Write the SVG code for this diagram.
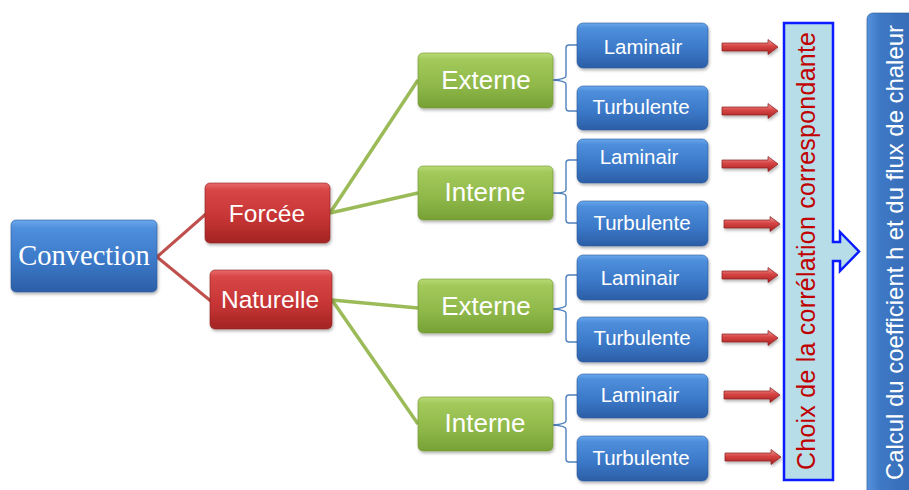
<svg xmlns="http://www.w3.org/2000/svg" width="909" height="490" viewBox="0 0 909 490">
  <defs>
    <linearGradient id="gBlue" x1="0" y1="0" x2="0" y2="1">
      <stop offset="0" stop-color="#6aa8ec"/>
      <stop offset="0.12" stop-color="#4e8fdc"/>
      <stop offset="0.6" stop-color="#3a77c6"/>
      <stop offset="1" stop-color="#2c5ea6"/>
    </linearGradient>
    <linearGradient id="gRed" x1="0" y1="0" x2="0" y2="1">
      <stop offset="0" stop-color="#e86a6a"/>
      <stop offset="0.12" stop-color="#d84646"/>
      <stop offset="0.6" stop-color="#c53434"/>
      <stop offset="1" stop-color="#a32424"/>
    </linearGradient>
    <linearGradient id="gGreen" x1="0" y1="0" x2="0" y2="1">
      <stop offset="0" stop-color="#b9db76"/>
      <stop offset="0.12" stop-color="#a2c95a"/>
      <stop offset="0.6" stop-color="#8fb84a"/>
      <stop offset="1" stop-color="#77a035"/>
    </linearGradient>
    <linearGradient id="gArrow" x1="0" y1="0" x2="0" y2="1">
      <stop offset="0" stop-color="#f29a9a"/>
      <stop offset="0.45" stop-color="#d64444"/>
      <stop offset="1" stop-color="#a82222"/>
    </linearGradient>
    <linearGradient id="gCalc" x1="0" y1="0" x2="1" y2="0">
      <stop offset="0" stop-color="#5592dc"/>
      <stop offset="0.25" stop-color="#3e79c6"/>
      <stop offset="1" stop-color="#3468b2"/>
    </linearGradient>
    <filter id="shadow" x="-10%" y="-10%" width="120%" height="130%">
      <feDropShadow dx="1" dy="2" stdDeviation="1.5" flood-color="#000" flood-opacity="0.3"/>
    </filter>
    <path id="blockArrow" d="M0,-4 H46 V-7.5 L56,0 L46,7.5 V4 H0 Z"/>
  </defs>
  <style>
    .box { filter: url(#shadow); }
    .blue { fill: url(#gBlue); stroke: #2a5a9c; stroke-width: 0.6; }
    .red { fill: url(#gRed); stroke: #8e1e1e; stroke-width: 0.6; }
    .green { fill: url(#gGreen); stroke: #6e9430; stroke-width: 0.6; }
    .lbl { fill: #ffffff; font-family: "Liberation Sans", Arial, sans-serif; text-anchor: middle; }
    .leaf { font-size: 20.5px; }
    .mid { font-size: 26px; }
    .cat { font-size: 24.5px; }
    .serif { font-family: "Liberation Serif", "Times New Roman", serif; font-size: 28.5px; }
    .redline { fill: none; stroke: #c0504d; stroke-width: 3; stroke-linejoin: round; }
    .greenline { fill: none; stroke: #9bbb59; stroke-width: 3.5; }
    .brace { fill: none; stroke: #4f81bd; stroke-width: 1.4; }
    .arrow { fill: url(#gArrow); stroke: #8a1c1c; stroke-width: 0.7; filter: url(#shadow); }
  </style>

  <!-- connectors -->
  <g id="connectors">
    <path class="redline" d="M207,213 L157,257 L212,302"/>
    <path class="greenline" d="M330,213 L418,80"/>
    <path class="greenline" d="M330,213 L418,193"/>
    <path class="greenline" d="M332,300 L418,308"/>
    <path class="greenline" d="M332,300 L418,424"/>
    <!-- braces grouping laminar / turbulent -->
    <path class="brace" d="M580,45 H569 Q566,45 566,48 V76 Q566,79 553,80 Q566,81 566,84 V108 Q566,111 569,111 H580"/>
    <path class="brace" d="M580,160 H569 Q566,160 566,163 V190 Q566,193 553,193 Q566,193 566,196 V220 Q566,223 569,223 H580"/>
    <path class="brace" d="M580,275 H569 Q566,275 566,278 V305 Q566,308 553,309 Q566,310 566,313 V339 Q566,342 569,342 H580"/>
    <path class="brace" d="M580,395 H569 Q566,395 566,398 V421 Q566,424 553,425 Q566,426 566,429 V459 Q566,462 569,462 H580"/>
    <!-- block arrows to correlation choice -->
    <use href="#blockArrow" class="arrow" transform="translate(722,47)"/>
    <use href="#blockArrow" class="arrow" transform="translate(722,111)"/>
    <use href="#blockArrow" class="arrow" transform="translate(722,164)"/>
    <use href="#blockArrow" class="arrow" transform="translate(724,224)"/>
    <use href="#blockArrow" class="arrow" transform="translate(722,275)"/>
    <use href="#blockArrow" class="arrow" transform="translate(722,338)"/>
    <use href="#blockArrow" class="arrow" transform="translate(724,395)"/>
    <use href="#blockArrow" class="arrow" transform="translate(725,457)"/>
  </g>

  <!-- root -->
  <g id="convection">
    <rect class="box blue" x="11" y="220" width="146" height="72" rx="5"/>
    <text class="lbl serif" x="84" y="265">Convection</text>
  </g>

  <!-- convection type -->
  <g id="forcee">
    <rect class="box red" x="205" y="183" width="125" height="60" rx="5"/>
    <text class="lbl cat" x="267" y="222">Forcée</text>
  </g>
  <g id="naturelle">
    <rect class="box red" x="210" y="270" width="122" height="59" rx="5"/>
    <text class="lbl cat" x="270" y="308">Naturelle</text>
  </g>

  <!-- flow geometry -->
  <g id="externe-forcee">
    <rect class="box green" x="418" y="53" width="135" height="55" rx="5"/>
    <text class="lbl mid" x="486" y="89">Externe</text>
  </g>
  <g id="interne-forcee">
    <rect class="box green" x="418" y="166" width="135" height="54" rx="5"/>
    <text class="lbl mid" x="485" y="201">Interne</text>
  </g>
  <g id="externe-naturelle">
    <rect class="box green" x="418" y="279" width="135" height="54" rx="5"/>
    <text class="lbl mid" x="486" y="315">Externe</text>
  </g>
  <g id="interne-naturelle">
    <rect class="box green" x="418" y="397" width="135" height="54" rx="5"/>
    <text class="lbl mid" x="485" y="432">Interne</text>
  </g>

  <!-- flow regime -->
  <g id="laminair-1">
    <rect class="box blue" x="577" y="23" width="131" height="45" rx="6"/>
    <text class="lbl leaf" x="643" y="54">Laminair</text>
  </g>
  <g id="turbulente-1">
    <rect class="box blue" x="577" y="86" width="131" height="44" rx="6"/>
    <text class="lbl leaf" x="641" y="114">Turbulente</text>
  </g>
  <g id="laminair-2">
    <rect class="box blue" x="577" y="139" width="131" height="44" rx="6"/>
    <text class="lbl leaf" x="639" y="164">Laminair</text>
  </g>
  <g id="turbulente-2">
    <rect class="box blue" x="577" y="201" width="131" height="45" rx="6"/>
    <text class="lbl leaf" x="642" y="230">Turbulente</text>
  </g>
  <g id="laminair-3">
    <rect class="box blue" x="577" y="255" width="131" height="45" rx="6"/>
    <text class="lbl leaf" x="640" y="285">Laminair</text>
  </g>
  <g id="turbulente-3">
    <rect class="box blue" x="577" y="317" width="131" height="45" rx="6"/>
    <text class="lbl leaf" x="642" y="345">Turbulente</text>
  </g>
  <g id="laminair-4">
    <rect class="box blue" x="577" y="374" width="131" height="44" rx="6"/>
    <text class="lbl leaf" x="640" y="402">Laminair</text>
  </g>
  <g id="turbulente-4">
    <rect class="box blue" x="577" y="436" width="131" height="45" rx="6"/>
    <text class="lbl leaf" x="641" y="465">Turbulente</text>
  </g>

  <!-- correlation choice with arrow to the calculation -->
  <g id="choix">
    <path d="M784,23 H833 V242 H840 V232 L859,251.5 L840,271 V261 H833 V480 H784 Z" fill="#b7dde8" stroke="#0a1cff" stroke-width="2.5" stroke-linejoin="miter"/>
    <text x="0" y="0" transform="translate(815,251) rotate(-90)" font-family="Liberation Sans, Arial, sans-serif" font-size="25" fill="#c00000" text-anchor="middle" textLength="438" lengthAdjust="spacing">Choix de la corrélation correspondante</text>
  </g>

  <!-- heat transfer calculation -->
  <g id="calcul">
    <rect class="box" x="867" y="13" width="52" height="490" rx="6" fill="url(#gCalc)" stroke="#2a5a9c" stroke-width="0.6"/>
    <text x="0" y="0" transform="translate(903,252.5) rotate(-90)" font-family="Liberation Sans, Arial, sans-serif" font-size="24" fill="#ffffff" text-anchor="middle" textLength="455" lengthAdjust="spacing">Calcul du coefficient h et du flux de chaleur</text>
  </g>
</svg>
